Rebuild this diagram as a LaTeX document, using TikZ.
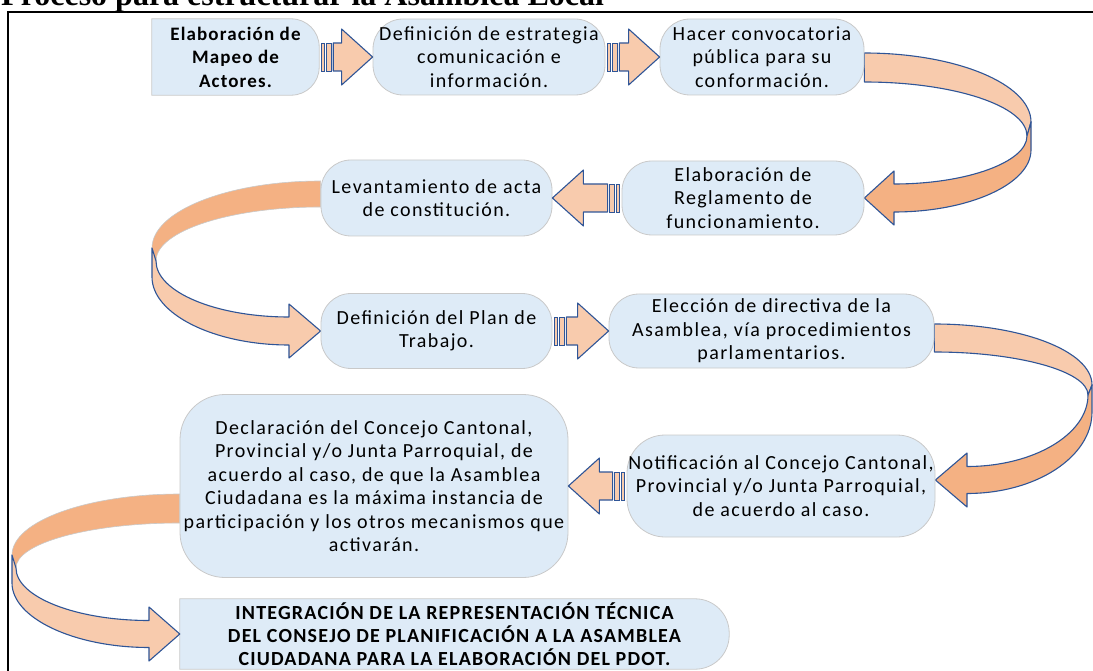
\documentclass[tikz,border=0pt]{standalone}
\usepackage{fontspec}
\setmainfont{Carlito}
\newfontfamily\nodefont[LetterSpace=7]{Carlito}
\newfontfamily\boldnodefont[LetterSpace=6]{Carlito}
\newfontfamily\titlefont{Liberation Serif}
\usetikzlibrary{calc}
\pgfdeclarelayer{bg}
\pgfsetlayers{bg,main}
\definecolor{nodefill}{HTML}{DEEBF7}
\definecolor{nodeline}{HTML}{C9C9C9}
\definecolor{peach}{HTML}{F8CBAD}
\definecolor{peachdark}{HTML}{F4B183}
\definecolor{arrowline}{HTML}{2F5597}
\tikzset{
  txt/.style={font=\nodefont\fontsize{20}{23.5}\selectfont, text=black, align=center, inner sep=0pt},
  box/.style={txt, draw=nodeline, line width=0.8pt, fill=nodefill, rounded corners=30pt},
  plainbox/.style={txt},
  shapefill/.style={draw=nodeline, line width=0.8pt, fill=nodefill},
  band/.style={fill=peach, draw=arrowline, line width=1.1pt, line join=round},
  darkband/.style={fill=peachdark, draw=arrowline, line width=1.1pt, line join=round},
  darkbandgray/.style={fill=peachdark, draw=nodeline, line width=0.6pt},
  stripe/.style={fill=peach, draw=arrowline, line width=0.9pt},
  frameline/.style={line width=2pt, draw=black},
}
\newcommand\blockarrowR[2]{%
  \path[stripe] ($(#1.east)+(2,-14)$) rectangle ($(#1.east)+(5.5,14)$);
  \path[stripe] ($(#1.east)+(7,-14)$) rectangle ($(#1.east)+(12.5,14)$);
  \path[band] ($(#1.east)+(14,-14)$) -- ($(#2.west)+(-31,-14)$) -- ($(#2.west)+(-31,-28)$) -- (#2.west)
    -- ($(#2.west)+(-31,28)$) -- ($(#2.west)+(-31,14)$) -- ($(#1.east)+(14,14)$) -- cycle;}
\newcommand\blockarrowL[2]{%
  \path[stripe] ($(#1.west)+(-2,-14)$) rectangle ($(#1.west)+(-5.5,14)$);
  \path[stripe] ($(#1.west)+(-7,-14)$) rectangle ($(#1.west)+(-12.5,14)$);
  \path[band] ($(#1.west)+(-14,-14)$) -- ($(#2.east)+(31,-14)$) -- ($(#2.east)+(31,-28)$) -- (#2.east)
    -- ($(#2.east)+(31,28)$) -- ($(#2.east)+(31,14)$) -- ($(#1.west)+(-14,14)$) -- cycle;}
\begin{document}
\begin{tikzpicture}[x=1pt,y=-1pt]
\useasboundingbox (0,0) rectangle (1093,671);
\clip (0,0) rectangle (1093,671);

% title and frame
\node[anchor=base west, inner sep=0pt, font=\titlefont\bfseries\fontsize{32}{32}\selectfont] (title) at (1,6) {Proceso para estructurar la Asamblea Local};
\draw[frameline] (7.5,680) -- (7.5,12) -- (1100,12);

% nodes
\node[plainbox, minimum width=167pt, minimum height=76pt, font=\boldnodefont\bfseries\fontsize{19}{23.5}\selectfont] (n1) at (235.5,57) {Elaboración de\\Mapeo de\\Actores.};
\node[box, minimum width=232pt, minimum height=76pt] (n2) at (489,57) {Definición de estrategia\\comunicación e\\información.};
\node[box, minimum width=204pt, minimum height=76pt] (n3) at (762,57) {Hacer convocatoria\\pública para su\\conformación.};
\node[box, minimum width=242pt, minimum height=74pt] (n4) at (743,198) {Elaboración de\\Reglamento de\\funcionamiento.};
\node[box, minimum width=231pt, minimum height=76pt] (n5) at (436.5,198) {Levantamiento de acta\\de constitución.};
\node[box, minimum width=231pt, minimum height=75pt] (n6) at (436.5,331) {Definición del Plan de\\Trabajo.};
\node[box, minimum width=325pt, minimum height=74pt] (n7) at (771.5,331) {Elección de directiva de la\\Asamblea, vía procedimientos\\parlamentarios.};
\node[box, minimum width=308pt, minimum height=102pt, rounded corners=38pt] (n8) at (781,486) {Notificación al Concejo Cantonal,\\Provincial y/o Junta Parroquial,\\de acuerdo al caso.};
\node[box, minimum width=388pt, minimum height=183pt, rounded corners=45pt] (n9) at (374,486) {Declaración del Concejo Cantonal,\\Provincial y/o Junta Parroquial, de\\acuerdo al caso, de que la Asamblea\\Ciudadana es la máxima instancia de\\participación y los otros mecanismos que\\activarán.};
\node[plainbox, minimum width=549pt, minimum height=70pt, font=\boldnodefont\bfseries\fontsize{20}{23}\selectfont] (n10) at (454.5,634) {INTEGRACIÓN DE LA REPRESENTACIÓN TÉCNICA\\DEL CONSEJO DE PLANIFICACIÓN A LA ASAMBLEA\\CIUDADANA PARA LA ELABORACIÓN DEL PDOT.};

\begin{pgfonlayer}{bg}
% shapes of the half-rounded boxes
\path[shapefill] (n1.north west) -- ($(n1.north east)+(-28,0)$) arc[start angle=-90,end angle=0,radius=28]
  -- ($(n1.south east)+(0,-28)$) arc[start angle=0,end angle=90,radius=28] -- (n1.south west) -- cycle;
\path[shapefill] (n10.north west) -- ($(n10.north east)+(-34,0)$) arc[start angle=-90,end angle=0,radius=34]
  -- ($(n10.south east)+(0,-34)$) arc[start angle=0,end angle=90,radius=34] -- (n10.south west) -- cycle;

% curve A: n3 -> n4 (right side)
\path[band] ($(n3.east)+(0,-4)$) .. controls (956,53) and (1031,84) .. (1031,122) -- (1027,136)
  .. controls (1027,106) and (954,82) .. ($(n3.east)+(0,25)$) -- cycle;
\path[darkband] (1031,122) -- (1031,150) .. controls (1031,184) and (969,212) .. (894,212) -- (894,225)
  -- (n4.east) -- (894,171) -- (894,184) .. controls (967,184) and (1027,162) .. (1027,136) -- cycle;

% curve B: n5 -> n6 (left side)
\path[darkbandgray] ($(n5.west)+(0,-17)$) .. controls (228,181) and (152,211) .. (152,248) -- (156,261)
  .. controls (156,231) and (230,207) .. ($(n5.west)+(0,9)$) -- cycle;
\path[band] (152,248) -- (152,277) .. controls (152,314) and (214,345) .. (289,345) -- (289,358)
  -- (n6.west) -- (289,304) -- (289,317) .. controls (216,317) and (156,292) .. (156,261) -- cycle;

% curve C: n7 -> n8 (right side)
\path[band] ($(n7.east)+(0,-7)$) .. controls (1021,324) and (1092,351) .. (1092,385) -- (1088,395)
  .. controls (1088,371) and (1017,352) .. ($(n7.east)+(0,21)$) -- cycle;
\path[darkband] (1092,385) -- (1092,412) .. controls (1092,457) and (1036,493.5) .. (967,493.5) -- (967,507)
  -- ($(n8.east)+(0,-6)$) -- (967,453) -- (967,466.5) .. controls (1034,466.5) and (1088,434) .. (1088,395) -- cycle;

% curve D: n9 -> n10 (left side)
\path[darkbandgray] ($(n9.west)+(0,8)$) .. controls (88,494) and (12,521) .. (12,555) -- (16,568)
  .. controls (16,543) and (90,523) .. ($(n9.west)+(0,37)$) -- cycle;
\path[band] (12,555) -- (12,583) .. controls (12,618) and (74,647.5) .. (149,647.5) -- (149,661)
  -- (n10.west) -- (149,607) -- (149,620.5) .. controls (76,620.5) and (16,597) .. (16,568) -- cycle;
\end{pgfonlayer}

% straight block arrows
\blockarrowR{n1}{n2}
\blockarrowR{n2}{n3}
\blockarrowL{n4}{n5}
\blockarrowR{n6}{n7}
\blockarrowL{n8}{n9}
\end{tikzpicture}
\end{document}
